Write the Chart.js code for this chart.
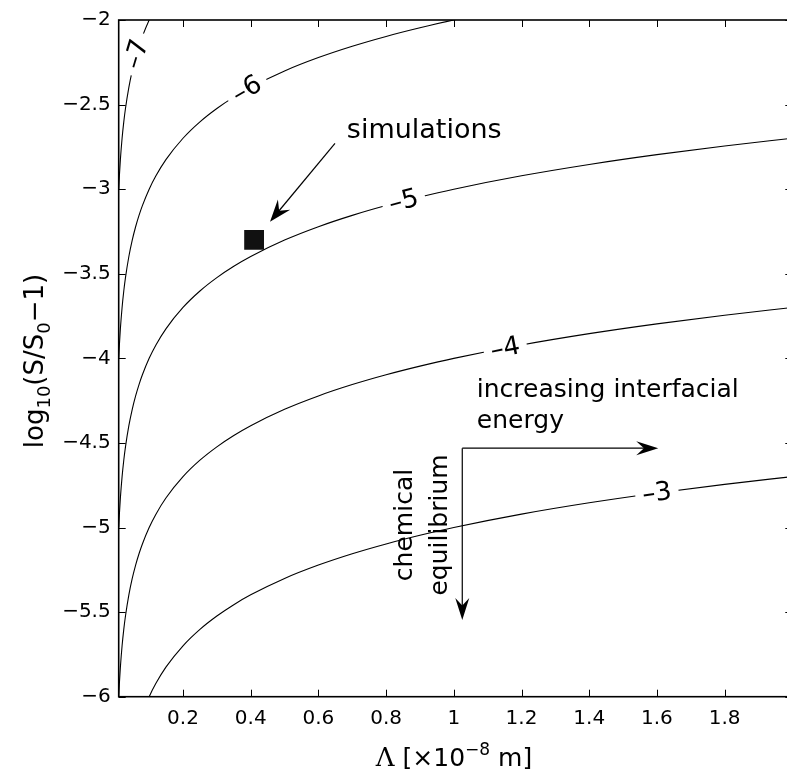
<!DOCTYPE html>
<html lang="en">
<head>
<meta charset="UTF-8" />
<title>Supersaturation contours</title>
<script src="https://cdn.jsdelivr.net/npm/chart.js"></script>
<style>
  html, body { margin: 0; padding: 0; background: #fff; overflow: hidden; }
  #wrap { width: 787px; height: 772px; overflow: hidden; }
  canvas { display: block; }
</style>
</head>
<body>
<div id="wrap"><canvas id="contourChart" width="800" height="772"></canvas></div>

<script>
  // Lambda grid [x 1e-8 m] and the contour values
  const lambda = [0.01, 0.012, 0.015, 0.02, 0.025, 0.03, 0.04, 0.05, 0.06, 0.07, 0.08, 0.1, 0.12, 0.15,
                  0.2, 0.25, 0.3, 0.35, 0.4, 0.5, 0.6, 0.7, 0.8, 0.9, 1.0, 1.2, 1.4, 1.6, 1.8, 2.0];

  const level = ['\u20137', '\u20136', '\u20135', '\u20134', '\u20133'];

  const curveM7 = [-3.000, -2.921, -2.824, -2.699, -2.602, -2.523, -2.398, -2.301, -2.222, -2.155, -2.097, -2.000, -1.921, null,
                   null, null, null, null, null, null, null, null, null, null, null, null, null, null, null, null];
  const curveM6 = [-4.000, -3.921, -3.824, -3.699, -3.602, -3.523, -3.398, -3.301, -3.222, -3.155, -3.097, -3.000, -2.921, -2.824,
                   -2.699, -2.602, -2.523, -2.456, -2.398, -2.301, -2.222, -2.155, -2.097, -2.046, -2.000, -1.921, null, null, null, null];
  const curveM5 = [-5.000, -4.921, -4.824, -4.699, -4.602, -4.523, -4.398, -4.301, -4.222, -4.155, -4.097, -4.000, -3.921, -3.824,
                   -3.699, -3.602, -3.523, -3.456, -3.398, -3.301, -3.222, -3.155, -3.097, -3.046, -3.000, -2.921, -2.854, -2.796, -2.745, -2.699];
  const curveM4 = [-6.000, -5.921, -5.824, -5.699, -5.602, -5.523, -5.398, -5.301, -5.222, -5.155, -5.097, -5.000, -4.921, -4.824,
                   -4.699, -4.602, -4.523, -4.456, -4.398, -4.301, -4.222, -4.155, -4.097, -4.046, -4.000, -3.921, -3.854, -3.796, -3.745, -3.699];
  const curveM3 = [null, null, null, null, null, null, null, null, null, null, -6.097, -6.000, -5.921, -5.824,
                   -5.699, -5.602, -5.523, -5.456, -5.398, -5.301, -5.222, -5.155, -5.097, -5.046, -5.000, -4.921, -4.854, -4.796, -4.745, -4.699];

  // where along each curve its label sits (Lambda value)
  const labelAt = [0.063, 0.389, 0.852, 1.152, 1.60];

  const simLambda = [0.41];
  const simLogS = [-3.3];

  const xTicks = [0.2, 0.4, 0.6, 0.8, 1, 1.2, 1.4, 1.6, 1.8];
  const yTicks = [-6, -5.5, -5, -4.5, -4, -3.5, -3, -2.5, -2];

  const FONT = '"DejaVu Sans", "Liberation Sans", sans-serif';
  Chart.defaults.font.family = FONT;
  Chart.defaults.color = '#000';

  const curves = [curveM7, curveM6, curveM5, curveM4, curveM3];

  function drawRuns(ctx, parts, x, y) {
    // parts: [text, size, dy, family]
    let total = 0;
    parts.forEach(p => { ctx.font = p[1] + 'px ' + (p[3] || FONT); p.w = ctx.measureText(p[0]).width; total += p.w; });
    let cx = x - total / 2;
    ctx.textAlign = 'left';
    ctx.textBaseline = 'alphabetic';
    parts.forEach(p => {
      ctx.font = p[1] + 'px ' + (p[3] || FONT);
      ctx.fillText(p[0], cx, y + p[2]);
      cx += p.w;
    });
  }

  function arrow(ctx, x0, y0, x1, y1, L, W) {
    const ang = Math.atan2(y1 - y0, x1 - x0);
    ctx.save();
    ctx.strokeStyle = '#000';
    ctx.lineWidth = 1.2;
    ctx.beginPath();
    ctx.moveTo(x0, y0);
    ctx.lineTo(x1 - Math.cos(ang) * L * 0.6, y1 - Math.sin(ang) * L * 0.6);
    ctx.stroke();
    ctx.translate(x1, y1);
    ctx.rotate(ang);
    ctx.beginPath();
    ctx.moveTo(0, 0);
    ctx.lineTo(-L, -W);
    ctx.lineTo(-L * 0.65, 0);
    ctx.lineTo(-L, W);
    ctx.closePath();
    ctx.fillStyle = '#000';
    ctx.fill();
    ctx.restore();
  }

  const decor = {
    id: 'decor',
    afterDatasetsDraw(chart) {
      const { ctx, chartArea: a, scales: { x, y } } = chart;
      const X = v => x.getPixelForValue(v);
      const Y = v => y.getPixelForValue(v);

      // contour labels, cut into the lines
      level.forEach((name, i) => {
        const pts = chart.getDatasetMeta(i).data.filter(p => !p.skip);
        const px = X(labelAt[i]);
        let k = pts.findIndex(p => p.x >= px);
        if (k < 1) k = 1;
        const p0 = pts[k - 1], p1 = pts[k];
        const t = (px - p0.x) / (p1.x - p0.x);
        const py = p0.y + t * (p1.y - p0.y);
        const ang = Math.atan2(p1.y - p0.y, p1.x - p0.x);
        ctx.save();
        ctx.translate(px, py);
        ctx.rotate(ang);
        ctx.font = '26px ' + FONT;
        const w = ctx.measureText(name).width;
        ctx.fillStyle = '#fff';
        ctx.fillRect(-w / 2 - 7, -10, w + 14, 20);
        ctx.fillStyle = '#000';
        ctx.textAlign = 'center';
        ctx.textBaseline = 'middle';
        ctx.fillText(name, 0, 1);
        ctx.restore();
      });

      ctx.save();
      ctx.fillStyle = '#000';

      // annotations
      ctx.font = '27px ' + FONT;
      ctx.textAlign = 'left';
      ctx.textBaseline = 'alphabetic';
      ctx.fillText('simulations', X(0.684), Y(-2.699));
      ctx.font = '25px ' + FONT;
      ctx.fillText('increasing interfacial', X(1.068), Y(-4.227));
      ctx.fillText('energy', X(1.068), Y(-4.412));

      ctx.save();
      ctx.translate(X(0.877), Y(-4.985));
      ctx.rotate(-Math.PI / 2);
      ctx.textAlign = 'center';
      ctx.fillText('chemical', 0, 0);
      ctx.restore();
      ctx.save();
      ctx.translate(X(0.98), Y(-4.985));
      ctx.rotate(-Math.PI / 2);
      ctx.textAlign = 'center';
      ctx.fillText('equilibrium', 0, 0);
      ctx.restore();

      arrow(ctx, X(0.649), Y(-2.729), X(0.457), Y(-3.192), 22, 8);
      arrow(ctx, X(1.025), Y(-4.531), X(1.604), Y(-4.531), 22, 7);
      arrow(ctx, X(1.025), Y(-4.531), X(1.025), Y(-5.546), 22, 7);

      // frame and inward ticks
      ctx.strokeStyle = '#000';
      ctx.lineWidth = 1.6;
      ctx.strokeRect(a.left, a.top, a.right - a.left, a.bottom - a.top);
      ctx.lineWidth = 1;
      ctx.beginPath();
      xTicks.forEach(v => {
        const px = Math.round(X(v)) + 0.5;
        ctx.moveTo(px, a.bottom); ctx.lineTo(px, a.bottom - 7);
        ctx.moveTo(px, a.top); ctx.lineTo(px, a.top + 7);
      });
      yTicks.forEach(v => {
        const py = Math.round(Y(v)) + 0.5;
        ctx.moveTo(a.left, py); ctx.lineTo(a.left + 7, py);
        ctx.moveTo(a.right, py); ctx.lineTo(a.right - 7, py);
      });
      ctx.stroke();

      // axis titles
      ctx.save();
      ctx.translate(43, 361);
      ctx.rotate(-Math.PI / 2);
      drawRuns(ctx, [['log', 26, 0], ['10', 18, 7], ['(S/S', 26, 0], ['0', 18, 7], ['\u22121)', 26, 0]], 0, 0);
      ctx.restore();
      drawRuns(ctx, [['\u039B', 26, 0, '"DejaVu Serif", "Liberation Serif", serif'], [' [\u00D710', 25, 0],
                     ['\u22128', 17, -11], [' m]', 25, 0]], 454, 766);
      ctx.restore();
    }
  };

  const datasets = curves.map((arr, i) => ({
    label: level[i],
    data: lambda.map((v, j) => ({ x: v, y: arr[j] })),
    borderColor: '#000',
    borderWidth: 1.1,
    pointRadius: 0,
    fill: false,
    spanGaps: false,
    cubicInterpolationMode: 'monotone'
  }));

  datasets.push({
    type: 'scatter',
    label: 'simulations',
    data: simLambda.map((v, j) => ({ x: v, y: simLogS[j] })),
    showLine: false,
    pointStyle: 'rect',
    pointRadius: 14,
    backgroundColor: '#111',
    borderColor: '#111',
    borderWidth: 0
  });

  new Chart(document.getElementById('contourChart').getContext('2d'), {
    type: 'line',
    data: { datasets: datasets },
    options: {
      responsive: false,
      animation: false,
      events: [],
      layout: { autoPadding: false, padding: { left: 0, right: 7.7, top: 20, bottom: 0 } },
      plugins: { legend: { display: false }, tooltip: { enabled: false } },
      scales: {
        x: {
          type: 'linear',
          min: 0.01,
          max: 2.0,
          grid: { display: false, drawTicks: false },
          border: { display: false },
          afterBuildTicks: s => { s.ticks = xTicks.map(v => ({ value: v })); },
          afterFit: s => { s.height = 75.3; },
          ticks: {
            autoSkip: false,
            maxRotation: 0,
            padding: 10,
            font: { size: 20 },
            color: '#000',
            callback: v => String(v)
          }
        },
        y: {
          type: 'linear',
          min: -6,
          max: -2,
          grid: { display: false, drawTicks: false },
          border: { display: false },
          afterBuildTicks: s => { s.ticks = yTicks.map(v => ({ value: v })); },
          afterFit: s => { s.width = 118.7; },
          ticks: {
            autoSkip: false,
            padding: 8,
            font: { size: 20 },
            color: '#000',
            callback: v => String(v).replace('-', '\u2212')
          }
        }
      }
    },
    plugins: [decor]
  });
</script>
</body>
</html>
